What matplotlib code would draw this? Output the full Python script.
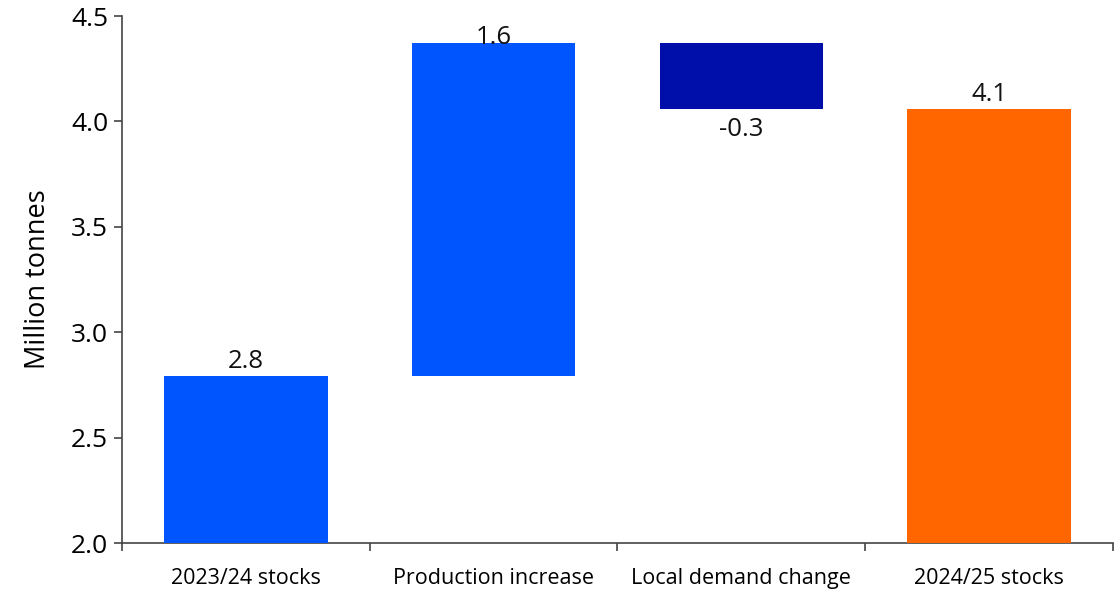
import matplotlib
matplotlib.use("Agg")
import matplotlib.pyplot as plt
import numpy as np

plt.rcParams['font.family'] = ['Open Sans', 'DejaVu Sans']

categories = ["2023/24 stocks", "Production increase", "Local demand change", "2024/25 stocks"]
start_stock = 2.79
changes = [1.58, -0.31]
end_stock = 4.06
labels = ["2.8", "1.6", "-0.3", "4.1"]
colors = ["#0055FF", "#0055FF", "#000FAA", "#FF6600"]

fig = plt.figure(figsize=(11.17, 5.93), dpi=100)
ax = fig.add_axes([0.1092, 0.0843, 0.8872, 0.8887])

ymin = 2.0
bottoms = [ymin, start_stock, start_stock + changes[0], ymin]
heights = [start_stock - ymin, changes[0], changes[1], end_stock - ymin]
x = np.arange(len(categories))
bars = ax.bar(x, heights, bottom=bottoms, width=0.66, color=colors, zorder=3,
              edgecolor='none', clip_on=False)

tops = [start_stock, start_stock + changes[0], start_stock + changes[0], end_stock]
ends = [start_stock, start_stock + changes[0], start_stock + sum(changes), end_stock]
lab_fs = 18.5
for i in range(4):
    if i == 2:
        ax.text(x[i], ends[i] - 0.04, labels[i], ha='center', va='top', fontsize=lab_fs, color='#111111', zorder=4)
    elif i == 1:
        ax.text(x[i], tops[i] - 0.03, labels[i], ha='center', va='bottom', fontsize=lab_fs, color='#111111', zorder=4)
    else:
        ax.text(x[i], tops[i] + 0.01, labels[i], ha='center', va='bottom', fontsize=lab_fs, color='#111111', zorder=4)

ax.set_xlim(-0.5, 3.5)
ax.set_ylim(2.0, 4.5)
ax.set_yticks([2.0, 2.5, 3.0, 3.5, 4.0, 4.5])
ax.set_yticklabels(["2.0", "2.5", "3.0", "3.5", "4.0", "4.5"], fontsize=19)
ax.set_xticks(x)
ax.set_xticklabels(categories, fontsize=15.5)
ax.tick_params(axis='x', length=0, pad=18)
ax.set_xticks(np.arange(-0.5, 4.0, 1.0), minor=True)
ax.tick_params(axis='x', which='minor', length=6, width=1.2, color='#444444')
ax.tick_params(axis='y', length=6, width=1.2, color='#444444', pad=4)
for s in ['top', 'right']:
    ax.spines[s].set_visible(False)
for s in ['left', 'bottom']:
    ax.spines[s].set_color('#444444')
    ax.spines[s].set_linewidth(1.2)
ax.set_ylabel("Million tonnes", fontsize=19.5, labelpad=14)

fig.savefig("out.png", dpi=100)
